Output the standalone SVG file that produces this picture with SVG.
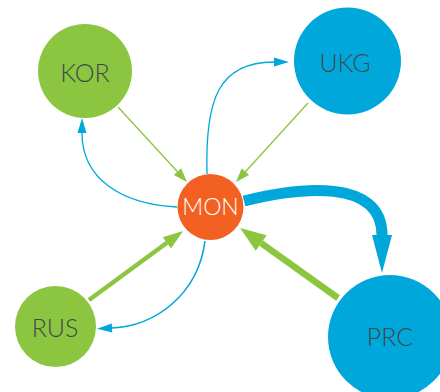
<svg xmlns="http://www.w3.org/2000/svg" width="440" height="392" viewBox="0 0 440 392">
<style>
.lbl{font-family:Lato,"Open Sans","Liberation Sans",sans-serif;font-weight:300;font-size:25px;fill:#3E4A50;text-anchor:middle}
.mon{fill:#FFFFFF;font-size:23px}
.g{fill:#8CC540}.b{fill:#00A7DB}.o{fill:#F26122}
.eg{fill:none;stroke:#8CC540}
.eb{fill:none;stroke:#00A7DB}
</style>
<defs>
<marker id="ag" markerUnits="userSpaceOnUse" markerWidth="16" markerHeight="12" refX="0" refY="5" orient="auto" overflow="visible"><path d="M0,0 L14,5 L0,10 Z" fill="#8CC540"/></marker>
<marker id="agm" markerUnits="userSpaceOnUse" markerWidth="22" markerHeight="16" refX="0" refY="7" orient="auto" overflow="visible"><path d="M0,0 L20,7 L0,14 Z" fill="#8CC540"/></marker>
<marker id="agl" markerUnits="userSpaceOnUse" markerWidth="28" markerHeight="20" refX="0" refY="9.5" orient="auto" overflow="visible"><path d="M0,0 L26,9.5 L0,19 Z" fill="#8CC540"/></marker>
<marker id="ab" markerUnits="userSpaceOnUse" markerWidth="18" markerHeight="12" refX="0" refY="4.5" orient="auto" overflow="visible"><path d="M0,0 L15,4.5 L0,9 Z" fill="#00A7DB"/></marker>
<marker id="abl" markerUnits="userSpaceOnUse" markerWidth="40" markerHeight="22" refX="0" refY="10" orient="auto" overflow="visible"><path d="M0,0 L38,10 L0,20 Z" fill="#00A7DB"/></marker>
</defs>
<g id="connectors">
<path class="eg" stroke-width="1.3" d="M118,107 L177.5,171.7" marker-end="url(#ag)"/>
<path class="eg" stroke-width="1.3" d="M308,103 L245.4,171.7" marker-end="url(#ag)"/>
<path class="eg" stroke-width="4.5" d="M89,300 L166.9,242.8" marker-end="url(#agm)"/>
<path class="eg" stroke-width="6.5" d="M338,298 L261.2,243.1" marker-end="url(#agl)"/>
<path class="eb" stroke-width="1.3" d="M177,207 C120,204 82,178 82,133" marker-end="url(#ab)"/>
<path class="eb" stroke-width="1.3" d="M207,174 C205,100 218,62 274,62" marker-end="url(#ab)"/>
<path class="eb" stroke-width="1.6" d="M205,241 C198,295 155,326 112,328" marker-end="url(#ab)"/>
<path class="eb" stroke-width="11" d="M244,201 C300,187 382,178 382,235" marker-end="url(#abl)"/>
</g>
<g id="KOR"><circle class="g" cx="85" cy="71" r="47"/><text class="lbl" x="85" y="81.5">KOR</text></g>
<g id="UKG"><circle class="b" cx="347.5" cy="61" r="53.5"/><text class="lbl" x="345" y="71.5">UKG</text></g>
<g id="RUS"><circle class="g" cx="55.5" cy="326.5" r="40.5"/><text class="lbl" x="55" y="336.5">RUS</text></g>
<g id="PRC"><circle class="b" cx="390" cy="337" r="62"/><text class="lbl" x="390" y="345.5">PRC</text></g>
<g id="MON"><circle class="o" cx="210.5" cy="207" r="33"/><text class="lbl mon" x="210.5" y="215">MON</text></g>
</svg>
